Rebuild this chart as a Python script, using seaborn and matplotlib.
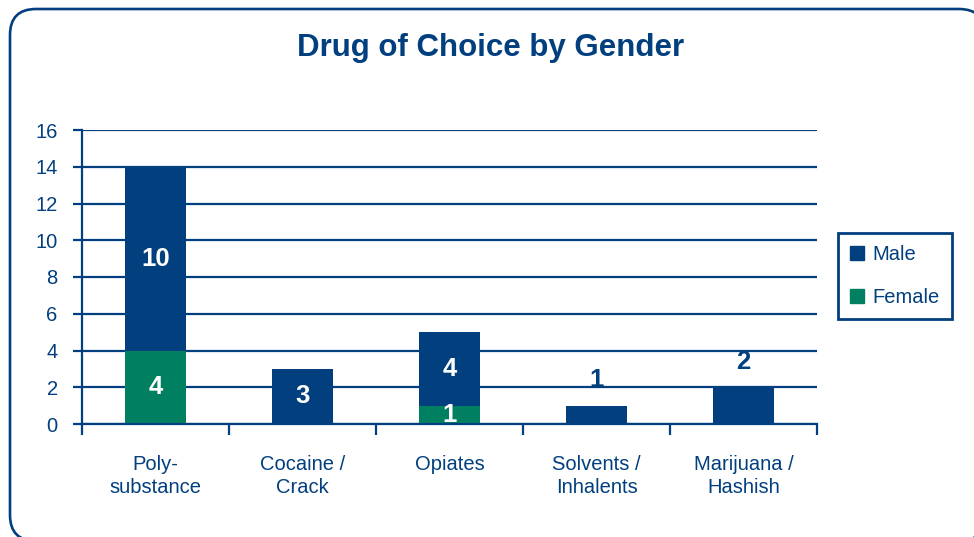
import matplotlib
matplotlib.use("Agg")
import matplotlib.pyplot as plt
from matplotlib.patches import FancyBboxPatch
from matplotlib.lines import Line2D
from matplotlib.transforms import IdentityTransform
import seaborn as sns
import pandas as pd

# ---- data ----
categories = ["Poly-\nsubstance", "Cocaine /\nCrack", "Opiates",
              "Solvents /\nInhalents", "Marijuana /\nHashish"]
male = [10, 3, 4, 1, 2]
female = [4, 0, 1, 0, 0]
y_ticks = [0, 2, 4, 6, 8, 10, 12, 14, 16]
title = "Drug of Choice by Gender"

NAVY = "#013F7E"
GREEN = "#008060"

sns.set_theme(style="white")
plt.rcParams["font.family"] = ["Liberation Sans", "DejaVu Sans"]

df = pd.DataFrame({"category": categories, "Male": male, "Female": female})
df["Total"] = df["Male"] + df["Female"]

W, H = 974, 537
fig = plt.figure(figsize=(W / 100, H / 100), dpi=100)
fig.patch.set_facecolor("white")
ax = fig.add_axes([82 / W, (H - 424) / H, (817 - 82) / W, (424 - 130) / H])

# stacked bars: full total in navy, female part drawn over it in green
sns.barplot(data=df, x="category", y="Total", order=categories, color=NAVY,
            saturation=1, width=0.41, linewidth=0, ax=ax)
sns.barplot(data=df, x="category", y="Female", order=categories, color=GREEN,
            saturation=1, width=0.41, linewidth=0, ax=ax)

ax.set_xlim(-0.5, len(categories) - 0.5)
ax.set_ylim(0, 16)
ax.set_xlabel("")
ax.set_ylabel("")

# horizontal grid behind bars
ax.set_axisbelow(True)
ax.set_yticks(y_ticks)
ax.yaxis.grid(True, color=NAVY, linewidth=1.6)
ax.xaxis.grid(False)

for side in ["top", "right"]:
    ax.spines[side].set_visible(False)
for side in ["left", "bottom"]:
    ax.spines[side].set_color(NAVY)
    ax.spines[side].set_linewidth(1.6)

ax.tick_params(axis="y", colors=NAVY, labelsize=14.5, length=6.5, width=1.6,
               direction="out", pad=11, left=True)
ax.set_yticklabels([str(v) for v in y_ticks])

# category boundary ticks (major) and centered labels (minor)
ax.set_xticks([i - 0.5 for i in range(len(categories) + 1)])
ax.set_xticklabels([])
ax.set_xticks(range(len(categories)), minor=True)
ax.set_xticklabels(categories, minor=True, fontsize=14.5, color=NAVY,
                   linespacing=1.3)
ax.tick_params(axis="x", which="major", colors=NAVY, length=8, width=1.6,
               direction="out", bottom=True)
ax.tick_params(axis="x", which="minor", length=0, pad=22, bottom=True)

# value labels
lab = dict(ha="center", va="center", fontsize=18.5, fontweight="bold")
for i, (m, f) in enumerate(zip(male, female)):
    if f > 0:
        ax.text(i, f / 2, str(f), color="white", **lab)
    if f == 0 and m < 3:
        ax.annotate(str(m), xy=(i, m), xytext=(0, 18.5), textcoords="offset points",
                    color=NAVY, **lab)
    else:
        ax.text(i, f + m / 2, str(m), color="white", **lab)

# title
fig.text(491 / W, (H - 48) / H, title, ha="center", va="center",
         fontsize=22.5, fontweight="bold", color=NAVY)

# legend
handles = [
    Line2D([], [], marker="s", linestyle="none", markersize=10.5,
           markerfacecolor=NAVY, markeredgecolor=NAVY, label="Male"),
    Line2D([], [], marker="s", linestyle="none", markersize=10.5,
           markerfacecolor=GREEN, markeredgecolor=GREEN, label="Female"),
]
leg = fig.legend(handles=handles, loc="upper left",
                 bbox_to_anchor=(838 / W, (H - 233) / H), borderaxespad=0,
                 frameon=True, fancybox=False, framealpha=1, fontsize=14.5,
                 labelcolor=NAVY, handlelength=0.7, handletextpad=0.4,
                 labelspacing=1.2, borderpad=0.6)
leg.get_frame().set_edgecolor(NAVY)
leg.get_frame().set_linewidth(2)

# rounded outer frame (flattened to line segments so edge clipping stays clean)
box = FancyBboxPatch((10, -4), 975, 532, boxstyle="round,pad=0,rounding_size=26")
for poly in box.get_path().to_polygons(closed_only=True):
    fig.add_artist(Line2D(poly[:, 0], poly[:, 1], transform=IdentityTransform(),
                          color=NAVY, linewidth=1.9, solid_joinstyle="round"))

fig.savefig("out.png", dpi=100, facecolor="white")
